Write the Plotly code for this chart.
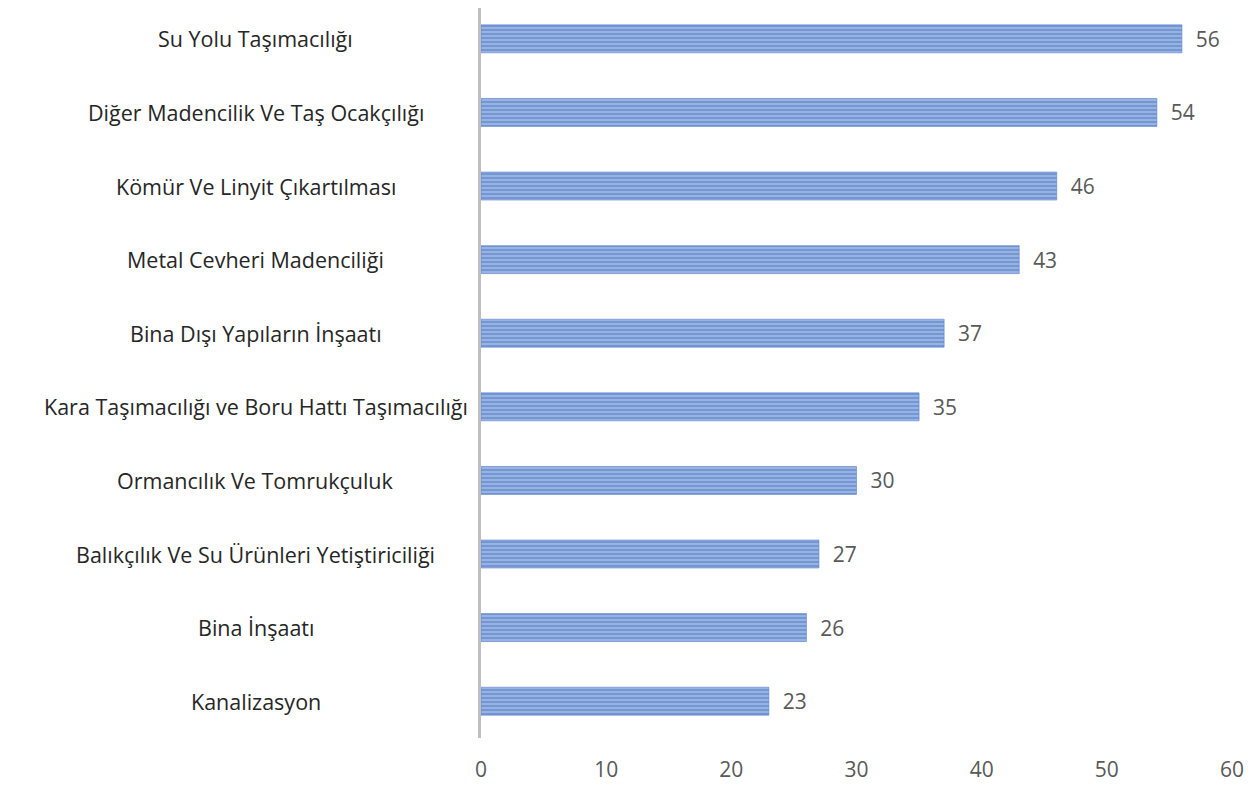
import plotly.graph_objects as go

categories = ["Su Yolu Taşımacılığı", "Diğer Madencilik Ve Taş Ocakçılığı", "Kömür Ve Linyit Çıkartılması",
              "Metal Cevheri Madenciliği", "Bina Dışı Yapıların İnşaatı",
              "Kara Taşımacılığı ve Boru Hattı Taşımacılığı", "Ormancılık Ve Tomrukçuluk",
              "Balıkçılık Ve Su Ürünleri Yetiştiriciliği", "Bina İnşaatı", "Kanalizasyon"]
values = [56, 54, 46, 43, 37, 35, 30, 27, 26, 23]
x_ticks = [0, 10, 20, 30, 40, 50, 60]

FONT = "Open Sans"
order = categories[::-1]
fig = go.Figure(go.Bar(
    x=values, y=categories, orientation="h", width=0.38,
    marker=dict(color="#8FAADC", line=dict(width=0.6, color="#5B82CC"),
                pattern=dict(shape="-", fgcolor="#4472C4", bgcolor="#A3BAE4", size=4, solidity=0.6)),
    text=["\u00a0\u00a0" + str(v) for v in values], textposition="outside", cliponaxis=False,
    textfont=dict(family=FONT, size=21, color="#595959"),
))

for c in categories:
    fig.add_annotation(x=-0.3, xref="paper", y=c, yref="y", text=c, showarrow=False,
                       xanchor="center", font=dict(family=FONT, size=21.5, color="#262626"))

fig.update_layout(
    width=1238, height=775, margin=dict(l=473, r=14, t=0, b=41),
    paper_bgcolor="white", plot_bgcolor="white", showlegend=False,
    xaxis=dict(range=[0, 60], tickvals=x_ticks, showgrid=False, zeroline=False,
               tickfont=dict(family=FONT, size=21, color="#595959"), ticks="", ticklabelstandoff=17),
    yaxis=dict(categoryorder="array", categoryarray=order, showticklabels=False,
               range=[-0.5, 9.419],
               showline=True, linecolor="#BFBFBF", linewidth=3, showgrid=False, ticks=""),
)
fig.write_html("out.html")
